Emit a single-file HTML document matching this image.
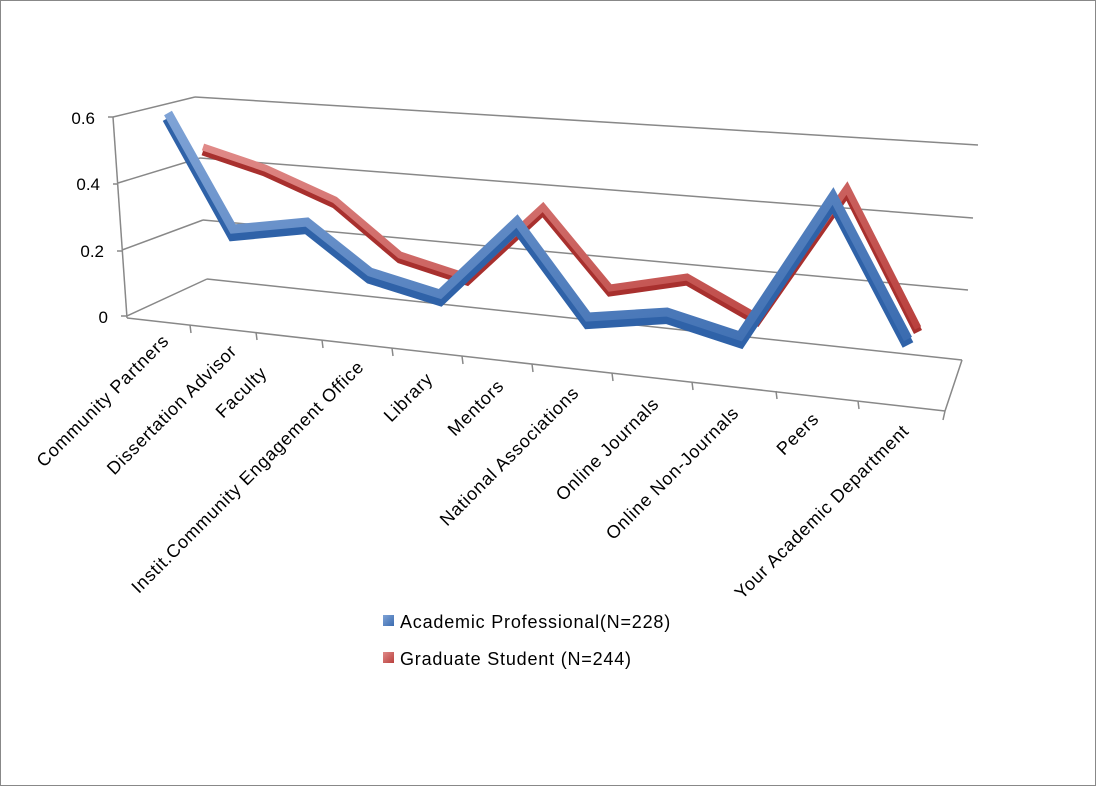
<!DOCTYPE html>
<html><head><style>
html,body{margin:0;padding:0;background:#fff;}
svg{display:block;font-family:"Liberation Sans",Arial,sans-serif;}
</style></head><body>
<svg width="1096" height="786" viewBox="0 0 1096 786" xmlns="http://www.w3.org/2000/svg">
<defs>
<linearGradient id="bl" x1="0" y1="0" x2="1" y2="1"><stop offset="0" stop-color="#7fa3d6"/><stop offset="1" stop-color="#3b6cb0"/></linearGradient>
<linearGradient id="rd" x1="0" y1="0" x2="1" y2="1"><stop offset="0" stop-color="#e08a88"/><stop offset="1" stop-color="#b9403d"/></linearGradient>
</defs>
<rect x="0.5" y="0.5" width="1095" height="785" fill="#fff" stroke="#888"/>
<g stroke="#888" stroke-width="1.5" fill="none">
<line x1="195" y1="97" x2="978" y2="145"/>
<line x1="200" y1="158" x2="973" y2="218"/>
<line x1="203" y1="220" x2="968" y2="290"/>
<line x1="207" y1="279" x2="962" y2="360"/>
<line x1="113" y1="117" x2="195" y2="97"/>
<line x1="118" y1="183" x2="200" y2="158"/>
<line x1="122" y1="250" x2="203" y2="220"/>
<line x1="127" y1="316" x2="207" y2="279"/>
<line x1="113" y1="117" x2="127" y2="318"/>
<line x1="127" y1="318" x2="945" y2="411"/>
<line x1="945" y1="411" x2="962" y2="360"/>
<line x1="945" y1="411" x2="943" y2="420"/>
<line x1="108" y1="117" x2="113" y2="117"/>
<line x1="113" y1="184" x2="118" y2="184"/>
<line x1="117" y1="251" x2="122" y2="251"/>
<line x1="121" y1="316" x2="127" y2="316"/>
<line x1="190" y1="325" x2="191" y2="333"/>
<line x1="256" y1="332" x2="257" y2="340"/>
<line x1="322" y1="340" x2="323" y2="348"/>
<line x1="392" y1="348" x2="393" y2="356"/>
<line x1="462" y1="356" x2="463" y2="364"/>
<line x1="532" y1="364" x2="533" y2="372"/>
<line x1="612" y1="373" x2="613" y2="381"/>
<line x1="692" y1="382" x2="693" y2="390"/>
<line x1="776" y1="391" x2="777" y2="399"/>
<line x1="858" y1="401" x2="859" y2="409"/>
</g>
<g font-size="17" fill="#000">
<text x="95" y="124" text-anchor="end">0.6</text>
<text x="100" y="190" text-anchor="end">0.4</text>
<text x="104" y="257" text-anchor="end">0.2</text>
<text x="108" y="323" text-anchor="end">0</text>
</g>
<!-- red series -->
<polyline points="203,151 265,172 335,204 400,259 467,281 543,211 610,292 687,281 757,321 847,192 918,332" fill="none" stroke="#a8302e" stroke-width="9" stroke-linejoin="miter"/>
<polyline points="203,147 265,168 335,200 400,255 467,277 543,207 610,288 687,277 757,317 847,188 918,328" fill="none" stroke="url(#rd)" stroke-width="7" stroke-linejoin="miter"/>
<!-- blue series -->
<polyline points="168,118 233,235 307,228 370,278 440,300 517,227 588,323 667,318 740,342 833,202 908,345" fill="none" stroke="#2f62a8" stroke-width="12" stroke-linejoin="miter"/>
<polyline points="168,113 233,229 307,222 370,272 440,294 517,221 588,317 667,312 740,336 833,196 908,339" fill="none" stroke="url(#bl)" stroke-width="9" stroke-linejoin="miter"/>
<g font-size="18" letter-spacing="0.8" fill="#000" text-anchor="end">
<text transform="translate(170,342) rotate(-45)">Community Partners</text>
<text transform="translate(238,352) rotate(-45)">Dissertation Advisor</text>
<text transform="translate(268,374) rotate(-45)">Faculty</text>
<text transform="translate(365,368) rotate(-45)">Instit.Community Engagement Office</text>
<text transform="translate(434,380) rotate(-45)">Library</text>
<text transform="translate(505,387) rotate(-45)">Mentors</text>
<text transform="translate(580,394) rotate(-45)">National Associations</text>
<text transform="translate(660,405) rotate(-45)">Online Journals</text>
<text transform="translate(740,414) rotate(-45)">Online Non-Journals</text>
<text transform="translate(820,420) rotate(-45)">Peers</text>
<text transform="translate(910,432) rotate(-45)">Your Academic Department</text>
</g>
<rect x="383" y="615" width="11" height="11" fill="url(#bl)"/>
<text x="400" y="628" font-size="18" letter-spacing="0.8">Academic Professional(N=228)</text>
<rect x="383" y="652" width="11" height="11" fill="url(#rd)"/>
<text x="400" y="665" font-size="18" letter-spacing="0.8">Graduate Student (N=244)</text>
</svg>
</body></html>
